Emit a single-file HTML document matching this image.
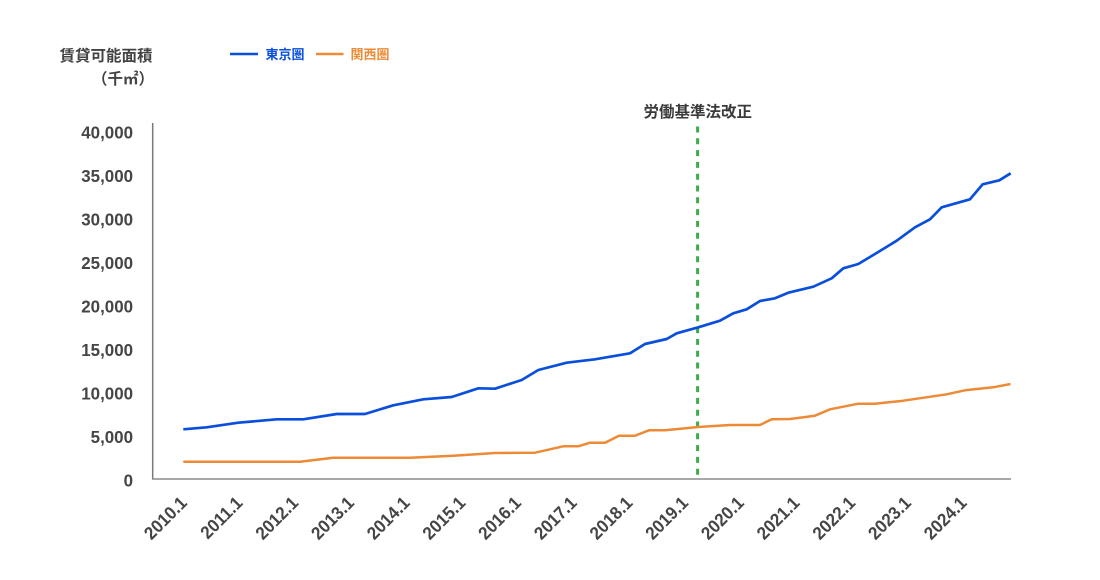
<!DOCTYPE html>
<html>
<head>
<meta charset="utf-8">
<style>
  html,body{margin:0;padding:0;background:#fff;}
  svg{display:block;}
  .num{font-family:"Liberation Sans",sans-serif;font-weight:bold;font-size:18px;fill:#454545;}
  .jp{font-family:"Liberation Sans","Noto Sans CJK JP",sans-serif;}
</style>
</head>
<body>
<svg width="1100" height="580" viewBox="0 0 1100 580" xmlns="http://www.w3.org/2000/svg">
  <rect width="1100" height="580" fill="#fff"/>

  <!-- axis titles -->
  <text class="jp" x="152.5" y="61" text-anchor="end" font-size="15.5" font-weight="bold" fill="#444">賃貸可能面積</text>
  <text class="jp" x="154" y="84" text-anchor="end" font-size="15.5" font-weight="bold" fill="#444">（千㎡）</text>

  <!-- legend -->
  <line x1="230" y1="54" x2="258" y2="54" stroke="#0a4fdc" stroke-width="2.5"/>
  <text class="jp" x="265.5" y="59" font-size="13" font-weight="bold" fill="#0a4fdc">東京圏</text>
  <line x1="316" y1="54" x2="343.5" y2="54" stroke="#ed8a36" stroke-width="2.5"/>
  <text class="jp" x="350.5" y="59" font-size="13" font-weight="bold" fill="#ed8a36">関西圏</text>

  <!-- annotation -->
  <text class="jp" x="697.7" y="117" text-anchor="middle" font-size="15.5" font-weight="bold" fill="#3a3a3a">労働基準法改正</text>

  <!-- axes -->
  <line x1="152.7" y1="123" x2="152.7" y2="479.5" stroke="#7a7a7a" stroke-width="1.5"/>
  <line x1="152" y1="479" x2="1011" y2="479" stroke="#8a8a8a" stroke-width="1.5"/>

  <!-- y labels -->
  <g class="num">
    <text transform="translate(133,138.5) scale(0.94,1)" text-anchor="end">40,000</text>
    <text transform="translate(133,182) scale(0.94,1)" text-anchor="end">35,000</text>
    <text transform="translate(133,225.5) scale(0.94,1)" text-anchor="end">30,000</text>
    <text transform="translate(133,269) scale(0.94,1)" text-anchor="end">25,000</text>
    <text transform="translate(133,312.5) scale(0.94,1)" text-anchor="end">20,000</text>
    <text transform="translate(133,356) scale(0.94,1)" text-anchor="end">15,000</text>
    <text transform="translate(133,399.5) scale(0.94,1)" text-anchor="end">10,000</text>
    <text transform="translate(133,443) scale(0.94,1)" text-anchor="end">5,000</text>
    <text transform="translate(133,486.5) scale(0.94,1)" text-anchor="end">0</text>
  </g>

  <!-- x labels -->
  <g class="num">
    <text transform="translate(188,504) rotate(-45) scale(0.94,1)" text-anchor="end">2010.1</text>
    <text transform="translate(243.7,504) rotate(-45) scale(0.94,1)" text-anchor="end">2011.1</text>
    <text transform="translate(299.4,504) rotate(-45) scale(0.94,1)" text-anchor="end">2012.1</text>
    <text transform="translate(355.1,504) rotate(-45) scale(0.94,1)" text-anchor="end">2013.1</text>
    <text transform="translate(410.8,504) rotate(-45) scale(0.94,1)" text-anchor="end">2014.1</text>
    <text transform="translate(466.5,504) rotate(-45) scale(0.94,1)" text-anchor="end">2015.1</text>
    <text transform="translate(522.2,504) rotate(-45) scale(0.94,1)" text-anchor="end">2016.1</text>
    <text transform="translate(577.9,504) rotate(-45) scale(0.94,1)" text-anchor="end">2017.1</text>
    <text transform="translate(633.6,504) rotate(-45) scale(0.94,1)" text-anchor="end">2018.1</text>
    <text transform="translate(689.3,504) rotate(-45) scale(0.94,1)" text-anchor="end">2019.1</text>
    <text transform="translate(745,504) rotate(-45) scale(0.94,1)" text-anchor="end">2020.1</text>
    <text transform="translate(800.7,504) rotate(-45) scale(0.94,1)" text-anchor="end">2021.1</text>
    <text transform="translate(856.4,504) rotate(-45) scale(0.94,1)" text-anchor="end">2022.1</text>
    <text transform="translate(912.1,504) rotate(-45) scale(0.94,1)" text-anchor="end">2023.1</text>
    <text transform="translate(967.8,504) rotate(-45) scale(0.94,1)" text-anchor="end">2024.1</text>
  </g>

  <!-- dashed line -->
  <line x1="697.6" y1="126.5" x2="697.6" y2="478" stroke="#3cac4a" stroke-width="3" stroke-dasharray="6,5.8"/>

  <!-- Kansai (orange) -->
  <polyline fill="none" stroke="#ed8a36" stroke-width="2.5" stroke-linejoin="round" points="
    183.3,461.7 300,461.7 333.3,457.7 410,457.7 453.3,455.7 495,453 535,452.7 563.3,446.3 578.3,446.3
    590,442.7 605,442.7 619,435.7 635,435.7 649,430.3 665,430.3 698.3,427 730,425 760,425 771.7,419.3
    790,419 815,415.7 830,409.3 858.3,403.7 875,403.7 903.3,400.7 946.7,394.3 965,390.3 993.3,387.3 1010.5,384"/>

  <!-- Tokyo (blue) -->
  <polyline fill="none" stroke="#0a4fdc" stroke-width="2.7" stroke-linejoin="round" points="
    183.3,429.3 206.7,427.3 238.3,422.7 276.7,419.3 303.3,419.3 336.7,414 365,414 393.3,405.3 423.3,399.3
    451.7,397 478.3,388.3 495,388.7 521.7,380 538.3,370 566.7,362.7 595,359.3 630,353.3 645,344 666.7,339
    676.7,333.3 698.3,327.3 720,320.7 733.3,313.3 746.7,309.3 760,301 775,298.3 788.3,292.7 813.3,286.7
    831.7,278.3 843.3,268.3 858.3,264 873.3,255 896.7,240.7 915,227.3 930,219.3 941.7,207.3 970,199.3
    982.7,184.3 999.3,180.3 1010.7,173.3"/>
</svg>
</body>
</html>
